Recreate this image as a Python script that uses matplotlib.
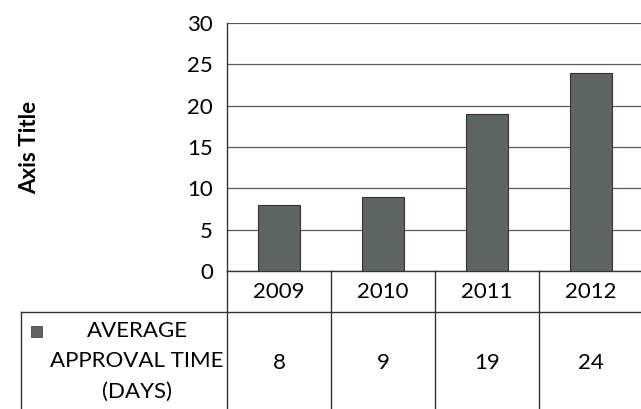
import matplotlib
matplotlib.use("Agg")
import matplotlib.pyplot as plt
from matplotlib.transforms import blended_transform_factory
from matplotlib.patches import Rectangle

years = ["2009", "2010", "2011", "2012"]
approval_days = [8, 9, 19, 24]
series_label = "AVERAGE\nAPPROVAL TIME\n(DAYS)"
y_ticks = [0, 5, 10, 15, 20, 25, 30]

plt.rcParams['font.family'] = ['Lato', 'DejaVu Sans']
bar_color = '#5e6461'
line_color = '#5a5a5a'
fs = 16

W, H = 641, 409
fig = plt.figure(figsize=(W / 100, H / 100), dpi=100)

# plot area in pixel terms: left 227, right 643, top 23, zero line 271
ax = fig.add_axes([227 / W, 1 - 271 / H, 416 / W, 248 / H])
xs = list(range(len(years)))
ax.bar(xs, approval_days, width=0.4, color=bar_color, edgecolor='#333333', linewidth=0.8, zorder=3)
ax.set_xlim(-0.5, len(years) - 0.5)
ax.set_ylim(0, 30)
ax.set_yticks(y_ticks)
ax.tick_params(axis='y', length=0, pad=10, labelsize=fs)
ax.set_xticks([])
ax.yaxis.grid(True, color=line_color, linewidth=0.9, zorder=0)
for s in ['top', 'right', 'bottom']:
    ax.spines[s].set_visible(False)
ax.spines['left'].set_color('#333333')
ax.spines['left'].set_linewidth(1.0)

fy = lambda py: 1 - py / H
fig.text(30 / W, fy(147), "Axis Title", rotation=90, ha='center', va='center',
         fontsize=fs, fontweight='bold')

# data table under the chart
trans = blended_transform_factory(ax.transData, fig.transFigure)
row_top, row_mid, row_bot = fy(271), fy(312), fy(412)

ax.plot([-0.5, 3.5], [row_top, row_top], transform=trans, color='#333333', lw=1.0, clip_on=False)
fig.add_artist(plt.Line2D([21 / W, 1], [row_mid, row_mid], transform=fig.transFigure, color='#333333', lw=1.0))
fig.add_artist(plt.Line2D([21 / W, 21 / W], [row_mid, row_bot], transform=fig.transFigure, color='#333333', lw=1.0))
for i in range(len(years) + 1):
    ax.plot([i - 0.5, i - 0.5], [row_top, row_bot], transform=trans, color='#333333', lw=1.0, clip_on=False)

for i, (yr, v) in enumerate(zip(years, approval_days)):
    ax.text(i, fy(292), yr, transform=trans, ha='center', va='center', fontsize=fs, clip_on=False)
    ax.text(i, fy(363), str(v), transform=trans, ha='center', va='center', fontsize=fs, clip_on=False)

fig.text(137 / W, fy(361), series_label, ha='center', va='center', fontsize=fs, linespacing=1.65)
fig.add_artist(Rectangle((31 / W, fy(337)), 11 / W, 11 / H, transform=fig.transFigure,
                         facecolor=bar_color, edgecolor='#333333', lw=0.5))

fig.savefig("out.png", dpi=100)
